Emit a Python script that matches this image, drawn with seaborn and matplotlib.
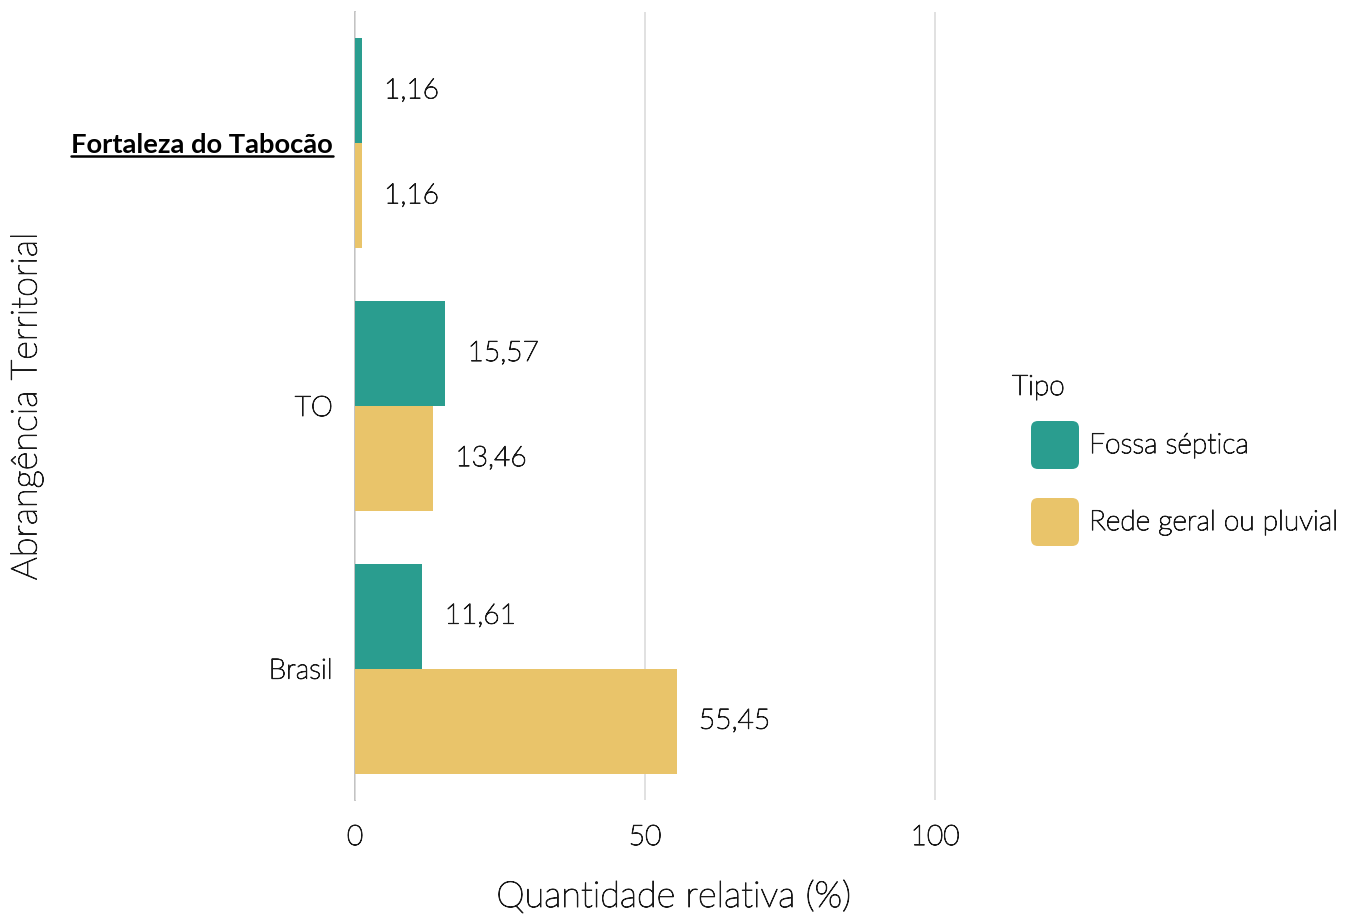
import numpy as np
import pandas as pd
import matplotlib
matplotlib.use("Agg")
import matplotlib.pyplot as plt
import matplotlib.patheffects as pe
import seaborn as sns
from matplotlib.patches import FancyBboxPatch
from matplotlib.legend_handler import HandlerPatch
from matplotlib.lines import Line2D

# ---- data ----
categories = ["Fortaleza do Tabocão", "TO", "Brasil"]
tipos = ["Fossa séptica", "Rede geral ou pluvial"]
fossa = [1.16, 15.57, 11.61]
rede = [1.16, 13.46, 55.45]
colors = ["#2a9d8f", "#e9c46a"]
xticks = [0, 50, 100]

df = pd.DataFrame({
    "Abrangência": categories * 2,
    "Tipo": [tipos[0]] * 3 + [tipos[1]] * 3,
    "valor": fossa + rede,
})

sns.set_theme(style="white")
plt.rcParams["font.family"] = ["Lato", "DejaVu Sans"]
FW = "light"
TXT = "#1a1a1a"
FS = 20.3
PE = [pe.withStroke(linewidth=0.7, foreground=TXT)]

W, H = 1347, 914
fig = plt.figure(figsize=(W / 100, H / 100), dpi=100)
ax = fig.add_axes([355 / W, 114 / H, 638 / W, 788 / H])

sns.barplot(data=df, y="Abrangência", x="valor", hue="Tipo", order=categories,
            hue_order=tipos, palette=colors, orient="h", saturation=1,
            width=0.8, ax=ax, legend=False, linewidth=0)

ax.set_xlim(0, 110)
ax.set_ylim(2.5, -0.5)
ax.set_xticks(xticks)
ax.set_xticklabels([str(t) for t in xticks])
ax.grid(axis="x", color="#dedede", linewidth=1.3)
ax.grid(axis="y", visible=False)
ax.set_axisbelow(True)
for s in ["top", "right", "bottom"]:
    ax.spines[s].set_visible(False)
ax.spines["left"].set_color("#bdbdbd")
ax.spines["left"].set_linewidth(1.3)
ax.spines["left"].set_zorder(0.5)
ax.tick_params(axis="both", length=0, labelsize=FS, colors=TXT)
ax.tick_params(axis="y", pad=16)
ax.tick_params(axis="x", pad=18)
for t in ax.get_xticklabels() + ax.get_yticklabels():
    t.set_fontweight(FW)
    t.set_path_effects(PE)

for c in ax.containers:
    ax.bar_label(c, labels=[f"{v:.2f}".replace(".", ",") for v in c.datavalues],
                 padding=16, fontsize=FS, color=TXT, fontweight=FW, path_effects=PE)

ax.set_xlabel("Quantidade relativa (%)", fontsize=26, color=TXT, fontweight=FW, path_effects=PE)
ax.set_ylabel("Abrangência Territorial", fontsize=26, color=TXT, fontweight=FW, path_effects=PE)
ax.xaxis.set_label_coords(0.5, (800 - 881) / 788)
ax.yaxis.set_label_coords((27 - 355) / 638, 0.5)
ax.yaxis.label.set_va("center")

# bold underlined highlight label
lab = ax.get_yticklabels()[0]
lab.set_fontweight("bold")
lab.set_color("black")
lab.set_path_effects([])
lab.set_fontsize(19.7)

px_per_pt = 100 / 72
key_pt = 48 / px_per_pt


class RoundHandler(HandlerPatch):
    def create_artists(self, legend, orig_handle, xdescent, ydescent, width, height, fontsize, trans):
        side = key_pt
        x0 = -xdescent + width - side
        y0 = -ydescent + (height - side) / 2
        p = FancyBboxPatch((x0 + 2, y0 + 2), side - 4, side - 4,
                           boxstyle="round,pad=2,rounding_size=5",
                           facecolor=orig_handle.get_facecolor(), edgecolor="none",
                           transform=trans)
        return [p]


handles = [FancyBboxPatch((0, 0), 1, 1, facecolor=c) for c in colors]
indent_pt = 19 / px_per_pt
box_pt = 64 / px_per_pt
hh = (box_pt / FS - 0.245) / 0.65
hl = (key_pt + indent_pt) / FS
ls = 13 / px_per_pt / FS
bp = 12 / px_per_pt / FS
leg = fig.legend(handles, tipos, title="Tipo", loc="upper left",
                 bbox_to_anchor=((1012 - bp * FS * px_per_pt) / W, 1 - (375 - bp * FS * px_per_pt) / H),
                 frameon=False, borderaxespad=0,
                 handler_map={FancyBboxPatch: RoundHandler()},
                 handlelength=hl, handleheight=hh, handletextpad=0.36,
                 labelspacing=ls, borderpad=bp,
                 prop={"weight": FW, "size": FS},
                 title_fontproperties={"weight": FW, "size": FS})
leg._legend_box.align = "left"
for t in leg.get_texts():
    t.set_color(TXT)
    t.set_path_effects(PE)
leg.get_title().set_color(TXT)
leg.get_title().set_path_effects(PE)

fig.canvas.draw()
r = fig.canvas.get_renderer()
bb = lab.get_window_extent(r)
yline = bb.y0 + 1
fig.add_artist(Line2D([bb.x0 / W, bb.x1 / W], [yline / H, yline / H],
                      color="black", linewidth=1.8, transform=fig.transFigure))

fig.savefig("out.png", dpi=100)
